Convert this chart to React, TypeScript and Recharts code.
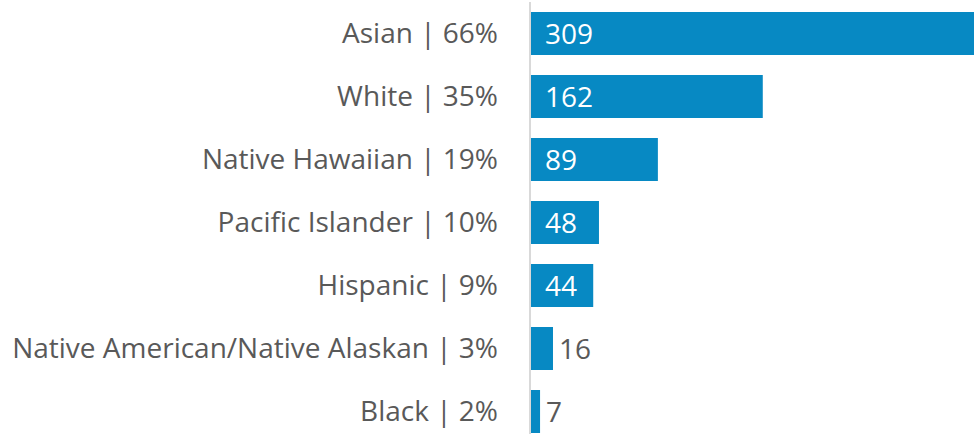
import { BarChart, Bar, XAxis, YAxis, LabelList } from 'recharts'

const categories = [
  'Asian | 66%',
  'White | 35%',
  'Native Hawaiian | 19%',
  'Pacific Islander | 10%',
  'Hispanic | 9%',
  'Native American/Native Alaskan | 3%',
  'Black | 2%',
]
const counts = [309, 162, 89, 48, 44, 16, 7]

const data = categories.map((name, i) => ({ name, value: counts[i] }))

const BAR_COLOR = '#0789c3'
const TEXT_COLOR = '#595959'
const FONT = '"Open Sans", sans-serif'

const ValueLabel = (props: any) => {
  const { x, y, width, height, value } = props
  const inside = width > 50
  return (
    <text
      x={inside ? x + 15 : x + width + 6}
      y={y + height / 2}
      dy="0.36em"
      fill={inside ? '#ffffff' : TEXT_COLOR}
      fontSize={28}
      fontFamily={FONT}
      textAnchor="start"
    >
      {value}
    </text>
  )
}

export default function App() {
  return (
    <div style={{ position: 'absolute', left: 0, top: 0, width: 979, height: 434, overflow: 'hidden', background: '#fff' }}>
      <BarChart
        width={979}
        height={443}
        data={data}
        layout="vertical"
        margin={{ top: 2, right: 5, bottom: 0, left: 0 }}
        barCategoryGap={10}
      >
        <XAxis type="number" domain={[0, 309]} hide />
        <YAxis
          type="category"
          dataKey="name"
          width={530}
          tickLine={false}
          tickSize={0}
          tickMargin={32}
          axisLine={{ stroke: '#d9d9d9', strokeWidth: 2 }}
          tick={{ fill: TEXT_COLOR, fontSize: 28, fontFamily: FONT }}
          interval={0}
        />
        <Bar dataKey="value" fill={BAR_COLOR} isAnimationActive={false}>
          <LabelList dataKey="value" content={<ValueLabel />} />
        </Bar>
      </BarChart>
    </div>
  )
}
